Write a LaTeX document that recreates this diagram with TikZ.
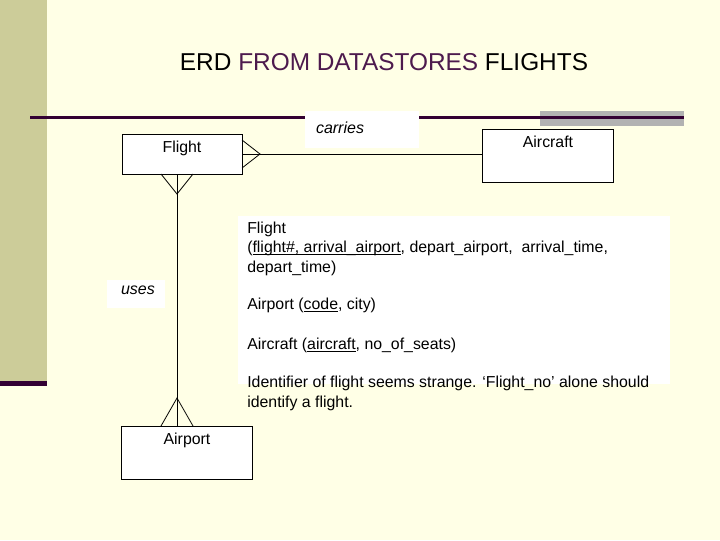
\documentclass[tikz,border=0pt]{standalone}
\usepackage{fontspec}
\setmainfont{Liberation Sans}
\newcommand{\ul}[1]{\underline{\smash{#1}}}
\definecolor{bg}{HTML}{FFFFE6}
\definecolor{band}{HTML}{CCCC99}
\definecolor{dark}{HTML}{330033}
\definecolor{purp}{HTML}{4D1A4D}
\begin{document}
\begin{tikzpicture}[x=0.75pt,y=-0.75pt,
  ent/.style={draw=black,fill=white,line width=0.6pt},
  ln/.style={draw=black,line width=0.6pt},
  txt/.style={font=\fontsize{11.9}{14}\selectfont,inner sep=0pt}]
\useasboundingbox (0,0) rectangle (720,540);
\fill[bg] (0,0) rectangle (720,540);
\fill[band] (0,0) rectangle (47,383);
\fill[dark] (0,381) rectangle (47,386);
\fill[black!30] (540,111) rectangle (684,126);
\fill[dark] (30,115.5) rectangle (684,118.5);
\node[inner sep=0pt,font=\fontsize{18.3}{21}\selectfont] (title) at (384,62) {ERD \textcolor{purp}{FROM DATASTORES} FLIGHTS};
% carries label
\fill[white] (305,111) rectangle (419,148);
\node[txt,font=\fontsize{12}{14}\selectfont\itshape] (carries) at (340,128) {carries};
% entities
\draw[ent] (122,134) rectangle (242,174);
\node[txt] (flight) at (182,148) {Flight};
\coordinate (fr) at (242,154);
\draw[ent] (482,129) rectangle (613,182);
\node[txt] (aircraft) at (548,142) {Aircraft};
\coordinate (al) at (482,154);
\draw[ent] (121,426) rectangle (252,479);
\node[txt] (airport) at (187,440) {Airport};
\coordinate (fb) at (177,174);
\coordinate (at) at (177,426);
% connectors
\draw[ln] (fr) -- (al);
\draw[ln] (242,140) -- (260,154) -- (242,168);
\draw[ln] (fb) -- (at);
\draw[ln] (161,174) -- (177,194) -- (193,174);
\draw[ln] (161,426) -- (177,398) -- (193,426);
% uses
\fill[white] (107,280) rectangle (165,308);
\node[txt,font=\fontsize{12}{14}\selectfont\itshape] (uses) at (138,290) {uses};
% notes
\fill[white] (238,216) rectangle (670,384);
\node[txt,anchor=west] (n1) at (247,229) {Flight};
\node[txt,anchor=west] (n2) at (247,248) {(\ul{flight\#, arrival\_airport}, depart\_airport,\ \ arrival\_time,};
\node[txt,anchor=west] (n3) at (247,268) {depart\_time)};
\node[txt,anchor=west] (n4) at (247,305) {Airport (\ul{code}, city)};
\node[txt,anchor=west] (n5) at (247,345) {Aircraft (\ul{aircraft}, no\_of\_seats)};
\node[txt,anchor=west] (n6) at (247,383) {Identifier of flight seems strange. ‘Flight\_no’ alone should};
\node[txt,anchor=west] (n7) at (247,403) {identify a flight.};
\end{tikzpicture}
\end{document}
